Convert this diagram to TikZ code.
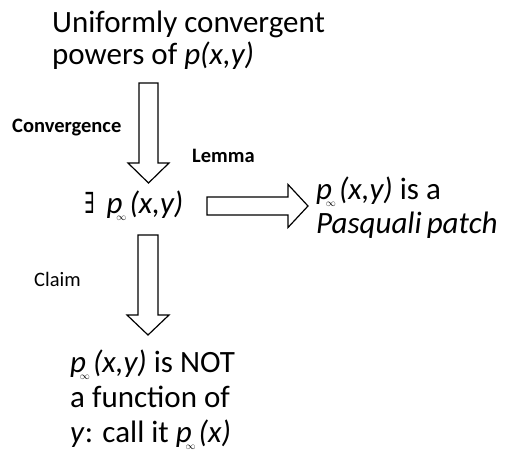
\documentclass[tikz,border=0pt]{standalone}
\usepackage{fontspec}
\usepackage{graphicx}
\setmainfont{Carlito}
\newfontfamily\dejavu{DejaVu Sans}
\usetikzlibrary{calc}
\newcommand\pinf{\textit{p}\kern-0.2em\raisebox{-0.5ex}{\fontsize{10}{10}\selectfont$\infty$}\kern0.1em}
\begin{document}
\begin{tikzpicture}[x=1pt,y=-1pt,
  txt/.style={inner sep=0pt, anchor=base west, align=left},
  big/.style={font=\fontsize{31}{#1}\selectfont},
  lbl/.style={inner sep=0pt, anchor=base west, font=\fontsize{20.5}{24}\selectfont},
  blk/.style={draw=black, fill=white, line width=1.2pt, line join=miter}]
\path[fill=white, use as bounding box] (0,0) rectangle (513,460);

% texts (base anchor = baseline of the last line)
\node[txt, big=32] (top) at (52,64) {Uniformly convergent\\powers of \textit{p(x,y)}};
\node[txt, big=34] (pinf) at (84,213) {\scalebox{0.55}[1]{\fontsize{29}{29}\dejavu ∃}\hspace{0.4em}\pinf\textit{(x,y)}};
\node[txt, big=34] (patch) at (316,233) {\pinf\textit{(x,y)} is a\\\textit{Pasquali\,patch}};
\node[txt, big=35] (notf) at (70,442) {\pinf\textit{(x,y)} is NOT\\a function of\\\textit{y}: call it \pinf\textit{(x)}};

% labels
\node[lbl, font=\fontsize{20.5}{24}\selectfont\bfseries] (conv) at (12,132) {Convergence};
\node[lbl, font=\fontsize{20.5}{24}\selectfont\bfseries] (lemma) at (192,162) {Lemma};
\node[lbl] (claim) at (34,286) {Claim};

% arrow 1: top -> pinf
\coordinate (a1s) at (148.5,83);
\coordinate (a1e) at (148.5,183);
\draw[blk] ($(a1s)+(-9.5,0)$) -- ($(a1e)+(-9.5,-20)$) -- ($(a1e)+(-20.5,-20)$) -- (a1e)
  -- ($(a1e)+(20.5,-20)$) -- ($(a1e)+(9.5,-20)$) -- ($(a1s)+(9.5,0)$) -- cycle;

% arrow 2: pinf -> notf
\coordinate (a2s) at (148,235);
\coordinate (a2e) at (148,335);
\draw[blk] ($(a2s)+(-10,0)$) -- ($(a2e)+(-10,-20)$) -- ($(a2e)+(-21,-20)$) -- (a2e)
  -- ($(a2e)+(21,-20)$) -- ($(a2e)+(10,-20)$) -- ($(a2s)+(10,0)$) -- cycle;

% arrow 3: pinf -> patch
\coordinate (a3s) at (207,206);
\coordinate (a3e) at (308,206);
\draw[blk] ($(a3s)+(0,-9)$) -- ($(a3e)+(-20,-9)$) -- ($(a3e)+(-20,-21.5)$) -- (a3e)
  -- ($(a3e)+(-20,21.5)$) -- ($(a3e)+(-20,9)$) -- ($(a3s)+(0,9)$) -- cycle;
\end{tikzpicture}
\end{document}
